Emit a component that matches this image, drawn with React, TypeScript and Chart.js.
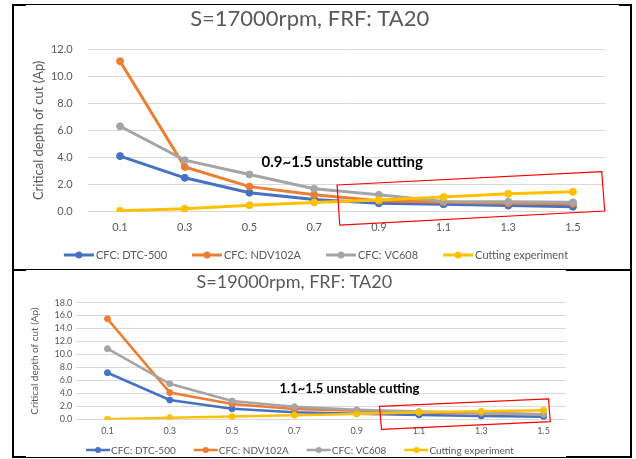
import React, { useEffect, useRef } from "react";
import { Chart, registerables } from "chart.js";

Chart.register(...registerables);

// ---------- data ----------
const categories = ["0.1", "0.3", "0.5", "0.7", "0.9", "1.1", "1.3", "1.5"];
const seriesNames = ["CFC: DTC-500", "CFC: NDV102A", "CFC: VC608", "Cutting experiment"];
const seriesColors = ["#4472C4", "#ED7D31", "#A5A5A5", "#FFC000"];

const top_dtc500 = [4.1, 2.5, 1.4, 0.9, 0.62, 0.55, 0.45, 0.37];
const top_ndv102a = [11.1, 3.3, 1.85, 1.25, 0.8, 0.7, 0.62, 0.58];
const top_vc608 = [6.3, 3.8, 2.75, 1.7, 1.25, 0.76, 0.74, 0.69];
const top_experiment = [0.07, 0.22, 0.48, 0.68, 0.86, 1.08, 1.32, 1.47];
const topYTicks = [0, 2, 4, 6, 8, 10, 12];

const bottom_dtc500 = [7.2, 3.0, 1.65, 1.1, 0.9, 0.7, 0.55, 0.43];
const bottom_ndv102a = [15.5, 4.15, 2.4, 1.6, 1.35, 1.08, 0.98, 0.82];
const bottom_vc608 = [10.9, 5.5, 2.85, 1.95, 1.5, 1.22, 1.05, 0.8];
const bottom_experiment = [0.05, 0.28, 0.45, 0.66, 0.86, 1.1, 1.28, 1.42];
const bottomYTicks = [0, 2, 4, 6, 8, 10, 12, 14, 16, 18];

const topTitle = "S=17000rpm, FRF: TA20";
const bottomTitle = "S=19000rpm, FRF: TA20";
const yTitle = "Critical depth of cut (Ap)";
const topNote = "0.9~1.5 unstable cutting";
const bottomNote = "1.1~1.5 unstable cutting";

const FONT = "Lato";
const TEXT = "#595959";

type Spec = {
  series: number[][];
  yTicks: number[];
  title: string;
  note: string;
  noteAt: [number, number];
  box: [number, number][];
  width: number;
  height: number;
  left: number;
  top: number;
  clipWidth: number;
  titleSize: number;
  titlePadBottom: number;
  padRight: number;
  padBottom: number;
  yAxisWidth: number;
  xAxisHeight: number;
  tickSize: number;
  yTickPad: number;
  xTickPad: number;
  yTitleSize: number;
  yTitlePad: number;
  lineWidth: number;
  pointRadius: number;
  legendSize: number;
  legendY: number;
  legendLine: number;
  legendGap: number;
  legendItemGap: number;
  legendLineWidth: number;
  legendDot: number;
  noteSize: number;
};

const topSpec: Spec = {
  series: [top_dtc500, top_ndv102a, top_vc608, top_experiment],
  yTicks: topYTicks,
  title: topTitle,
  note: topNote,
  noteAt: [3.434, 3.63],
  box: [
    [3.354, 1.97],
    [7.445, 2.95],
    [7.491, 0.05],
    [3.396, -0.99],
  ],
  width: 604,
  height: 262,
  left: 14,
  top: 6,
  clipWidth: 604,
  titleSize: 22,
  titlePadBottom: 16.6,
  padRight: 12.7,
  padBottom: 26.3,
  yAxisWidth: 73.7,
  xAxisHeight: 30,
  tickSize: 11,
  yTickPad: 15,
  xTickPad: 9,
  yTitleSize: 13,
  yTitlePad: 17,
  lineWidth: 3,
  pointRadius: 3.5,
  legendSize: 11,
  legendY: 249,
  legendLine: 30,
  legendGap: 2,
  legendItemGap: 25,
  legendLineWidth: 3,
  legendDot: 3.5,
  noteSize: 15,
};

const bottomSpec: Spec = {
  series: [bottom_dtc500, bottom_ndv102a, bottom_vc608, bottom_experiment],
  yTicks: bottomYTicks,
  title: bottomTitle,
  note: bottomNote,
  noteAt: [3.884, 4.73],
  box: [
    [4.366, 2.02],
    [7.079, 3.18],
    [7.106, -0.34],
    [4.398, -1.52],
  ],
  width: 572,
  height: 185,
  left: 14,
  top: 271,
  clipWidth: 552,
  titleSize: 18,
  titlePadBottom: 10,
  padRight: 11.2,
  padBottom: 18.5,
  yAxisWidth: 62.3,
  xAxisHeight: 18,
  tickSize: 9,
  yTickPad: 4,
  xTickPad: 6,
  yTitleSize: 10,
  yTitlePad: 15,
  lineWidth: 2.5,
  pointRadius: 3,
  legendSize: 10,
  legendY: 179,
  legendLine: 24,
  legendGap: 1,
  legendItemGap: 18,
  legendLineWidth: 2.5,
  legendDot: 3,
  noteSize: 13,
};

function buildConfig(s: Spec): any {
  const overlay = {
    id: "overlay",
    afterDraw(chart: any) {
      const { ctx } = chart;
      const x = chart.scales.x;
      const y = chart.scales.y;
      ctx.save();
      // red box
      ctx.beginPath();
      s.box.forEach(([cx, cy], i) => {
        const px = x.getPixelForValue(cx);
        const py = y.getPixelForValue(cy);
        if (i === 0) ctx.moveTo(px, py);
        else ctx.lineTo(px, py);
      });
      ctx.closePath();
      ctx.strokeStyle = "#FF0000";
      ctx.lineWidth = 1.2;
      ctx.stroke();
      // note
      ctx.font = `bold ${s.noteSize}px ${FONT}`;
      ctx.fillStyle = "#000000";
      ctx.textAlign = "center";
      ctx.textBaseline = "middle";
      ctx.fillText(s.note, x.getPixelForValue(s.noteAt[0]), y.getPixelForValue(s.noteAt[1]));
      // legend
      ctx.font = `${s.legendSize}px ${FONT}`;
      const items = chart.data.datasets.map((ds: any) => ({
        label: ds.label,
        color: ds.borderColor,
        w: ctx.measureText(ds.label).width,
      }));
      const total =
        items.reduce((acc: number, it: any) => acc + s.legendLine + s.legendGap + it.w, 0) +
        s.legendItemGap * (items.length - 1);
      let lx = chart.width / 2 - total / 2;
      const ly = s.legendY;
      ctx.textAlign = "left";
      for (const it of items) {
        ctx.strokeStyle = it.color;
        ctx.lineWidth = s.legendLineWidth;
        ctx.beginPath();
        ctx.moveTo(lx, ly);
        ctx.lineTo(lx + s.legendLine, ly);
        ctx.stroke();
        ctx.fillStyle = it.color;
        ctx.beginPath();
        ctx.arc(lx + s.legendLine / 2, ly, s.legendDot, 0, Math.PI * 2);
        ctx.fill();
        ctx.fillStyle = TEXT;
        ctx.fillText(it.label, lx + s.legendLine + s.legendGap, ly + 0.5);
        lx += s.legendLine + s.legendGap + it.w + s.legendItemGap;
      }
      ctx.restore();
    },
  };

  return {
    type: "line",
    data: {
      labels: categories,
      datasets: s.series.map((vals, i) => ({
        label: seriesNames[i],
        data: vals,
        borderColor: seriesColors[i],
        backgroundColor: seriesColors[i],
        pointBackgroundColor: seriesColors[i],
        pointBorderColor: seriesColors[i],
        pointRadius: s.pointRadius,
        pointBorderWidth: 1,
        borderWidth: s.lineWidth,
        tension: 0,
        fill: false,
        order: 4 - i,
      })),
    },
    options: {
      responsive: false,
      maintainAspectRatio: false,
      devicePixelRatio: 1,
      animation: false,
      layout: { padding: { left: 0, right: s.padRight, top: 0, bottom: s.padBottom } },
      plugins: {
        legend: { display: false },
        tooltip: { enabled: false },
        title: {
          display: true,
          text: s.title,
          color: TEXT,
          font: { family: FONT, size: s.titleSize, weight: "normal" },
          padding: { top: 0, bottom: s.titlePadBottom },
        },
      },
      scales: {
        x: {
          type: "category",
          offset: true,
          grid: { display: false, drawTicks: false },
          border: { display: false },
          ticks: {
            color: TEXT,
            font: { family: FONT, size: s.tickSize },
            padding: s.xTickPad,
            maxRotation: 0,
            autoSkip: false,
          },
          afterFit: (sc: any) => {
            sc.height = s.xAxisHeight;
          },
        },
        y: {
          min: s.yTicks[0],
          max: s.yTicks[s.yTicks.length - 1],
          afterBuildTicks: (sc: any) => {
            sc.ticks = s.yTicks.map((v) => ({ value: v }));
          },
          grid: { color: "#D9D9D9", drawTicks: false, lineWidth: 1 },
          border: { display: false },
          ticks: {
            color: TEXT,
            font: { family: FONT, size: s.tickSize },
            padding: s.yTickPad,
            autoSkip: false,
            callback: (v: any) => Number(v).toFixed(1),
          },
          title: {
            display: true,
            text: yTitle,
            color: TEXT,
            font: { family: FONT, size: s.yTitleSize },
            padding: { top: s.yTitlePad, bottom: 0 },
          },
          afterFit: (sc: any) => {
            sc.width = s.yAxisWidth;
          },
        },
      },
    },
    plugins: [overlay],
  };
}

function LineChart({ spec }: { spec: Spec }) {
  const ref = useRef<HTMLCanvasElement>(null);
  useEffect(() => {
    const chart = new Chart(ref.current as HTMLCanvasElement, buildConfig(spec));
    return () => chart.destroy();
  }, [spec]);
  return (
    <div
      style={{
        position: "absolute",
        left: spec.left,
        top: spec.top,
        width: spec.clipWidth,
        height: spec.height,
        overflow: "hidden",
      }}
    >
      <canvas
        ref={ref}
        width={spec.width}
        height={spec.height}
        style={{ display: "block", width: spec.width, height: spec.height }}
      />
    </div>
  );
}

function Bar({ l, t, w, h }: { l: number; t: number; w: number; h: number }) {
  return <div style={{ position: "absolute", left: l, top: t, width: w, height: h, background: "#000" }} />;
}

export default function App() {
  return (
    <div
      style={{
        position: "fixed",
        left: 0,
        top: 0,
        width: 636,
        height: 459,
        background: "#fff",
        overflow: "hidden",
      }}
    >
      {/* top panel frame */}
      <Bar l={12} t={4} w={620} h={1} />
      <Bar l={12} t={4} w={14} h={2} />
      <Bar l={619} t={4} w={13} h={2} />
      <Bar l={12} t={4} w={2} h={267} />
      <Bar l={630} t={4} w={2} h={267} />
      {/* shared line */}
      <Bar l={12} t={269} w={620} h={1} />
      <Bar l={12} t={269} w={14} h={2} />
      <Bar l={566} t={269} w={66} h={2} />
      {/* bottom panel frame */}
      <Bar l={12} t={269} w={2} h={189} />
      <Bar l={630} t={269} w={2} h={189} />
      <Bar l={12} t={457} w={620} h={1} />
      <Bar l={12} t={456} w={14} h={2} />
      <Bar l={566} t={456} w={66} h={2} />
      <LineChart spec={topSpec} />
      <LineChart spec={bottomSpec} />
    </div>
  );
}
